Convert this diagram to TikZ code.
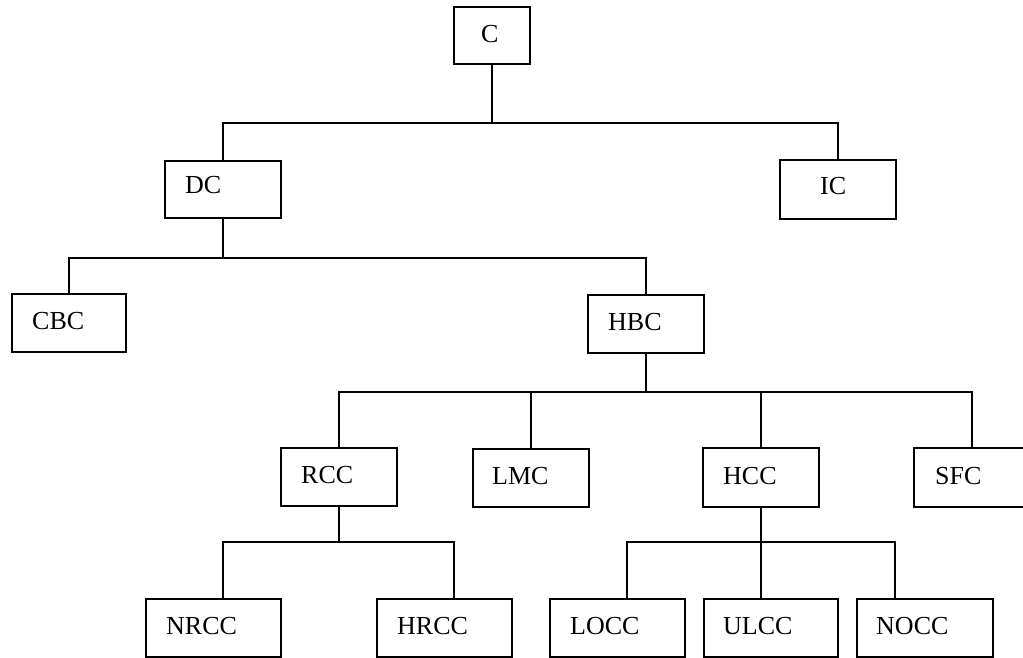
\documentclass[tikz,border=0pt]{standalone}
\usepackage{fontspec}
\setmainfont{Liberation Serif}
\begin{document}
\begin{tikzpicture}[x=1pt,y=1pt,
  box/.style={draw,line width=1.8pt,inner sep=0pt,anchor=north west,minimum height=58pt},
  lbl/.style={anchor=base west,inner sep=0pt,font=\fontsize{26}{30}\selectfont},
  conn/.style={line width=1.8pt}]
\useasboundingbox (0,0) rectangle (1023,657);
\clip (0,0) rectangle (1023,657);
% boxes
\node[box,minimum width=76pt,minimum height=57pt] (C) at (453,651) {};
\node[box,minimum width=116pt,minimum height=57pt] (DC) at (164,497) {};
\node[box,minimum width=116pt,minimum height=59pt] (IC) at (779,498) {};
\node[box,minimum width=114pt] (CBC) at (11,364) {};
\node[box,minimum width=116pt] (HBC) at (587,363) {};
\node[box,minimum width=116pt] (RCC) at (280,210) {};
\node[box,minimum width=116pt] (LMC) at (472,209) {};
\node[box,minimum width=116pt,minimum height=59pt] (HCC) at (702,210) {};
\node[box,minimum width=116pt,minimum height=59pt] (SFC) at (913,210) {};
\node[box,minimum width=135pt] (NRCC) at (145,59) {};
\node[box,minimum width=135pt] (HRCC) at (376,59) {};
\node[box,minimum width=135pt] (LOCC) at (549,59) {};
\node[box,minimum width=134pt] (ULCC) at (703,59) {};
\node[box,minimum width=136pt] (NOCC) at (856,59) {};
% labels
\node[lbl] (tC) at (481,614) {C};
\node[lbl] (tDC) at (185,463) {DC};
\node[lbl] (tIC) at (820,462) {IC};
\node[lbl] (tCBC) at (32,327) {CBC};
\node[lbl] (tHBC) at (608,326) {HBC};
\node[lbl] (tRCC) at (301,174) {RCC};
\node[lbl] (tLMC) at (492,173) {LMC};
\node[lbl] (tHCC) at (723,173) {HCC};
\node[lbl] (tSFC) at (935,173) {SFC};
\node[lbl] (tNRCC) at (166,23) {NRCC};
\node[lbl] (tHRCC) at (397,23) {HRCC};
\node[lbl] (tLOCC) at (570,23) {LOCC};
\node[lbl] (tULCC) at (723,23) {ULCC};
\node[lbl] (tNOCC) at (876,23) {NOCC};
% connectors
\draw[conn] (C.south) -- ++(0,-58) coordinate (b1);
\draw[conn] (DC.north) |- (b1) -| (IC.north);
\draw[conn] (DC.south) -- ++(0,-39) coordinate (b2);
\draw[conn] (CBC.north) |- (b2) -| (HBC.north);
\draw[conn] (HBC.south) -- ++(0,-38) coordinate (b3);
\draw[conn] (RCC.north) |- (b3) -| (SFC.north);
\draw[conn] (LMC.north) -- (LMC.north |- b3);
\draw[conn] (HCC.north) -- (HCC.north |- b3);
\draw[conn] (RCC.south) -- ++(0,-35) coordinate (b4);
\draw[conn] ([xshift=9.5pt]NRCC.north) |- (b4) -| ([xshift=9.5pt]HRCC.north);
\draw[conn] (HCC.south) -- ++(0,-34) coordinate (b5);
\draw[conn] ([xshift=9.5pt]LOCC.north) |- (b5) -| ([xshift=-30pt]NOCC.north);
\draw[conn] (b5) -- (b5 |- ULCC.north);
\end{tikzpicture}
\end{document}
